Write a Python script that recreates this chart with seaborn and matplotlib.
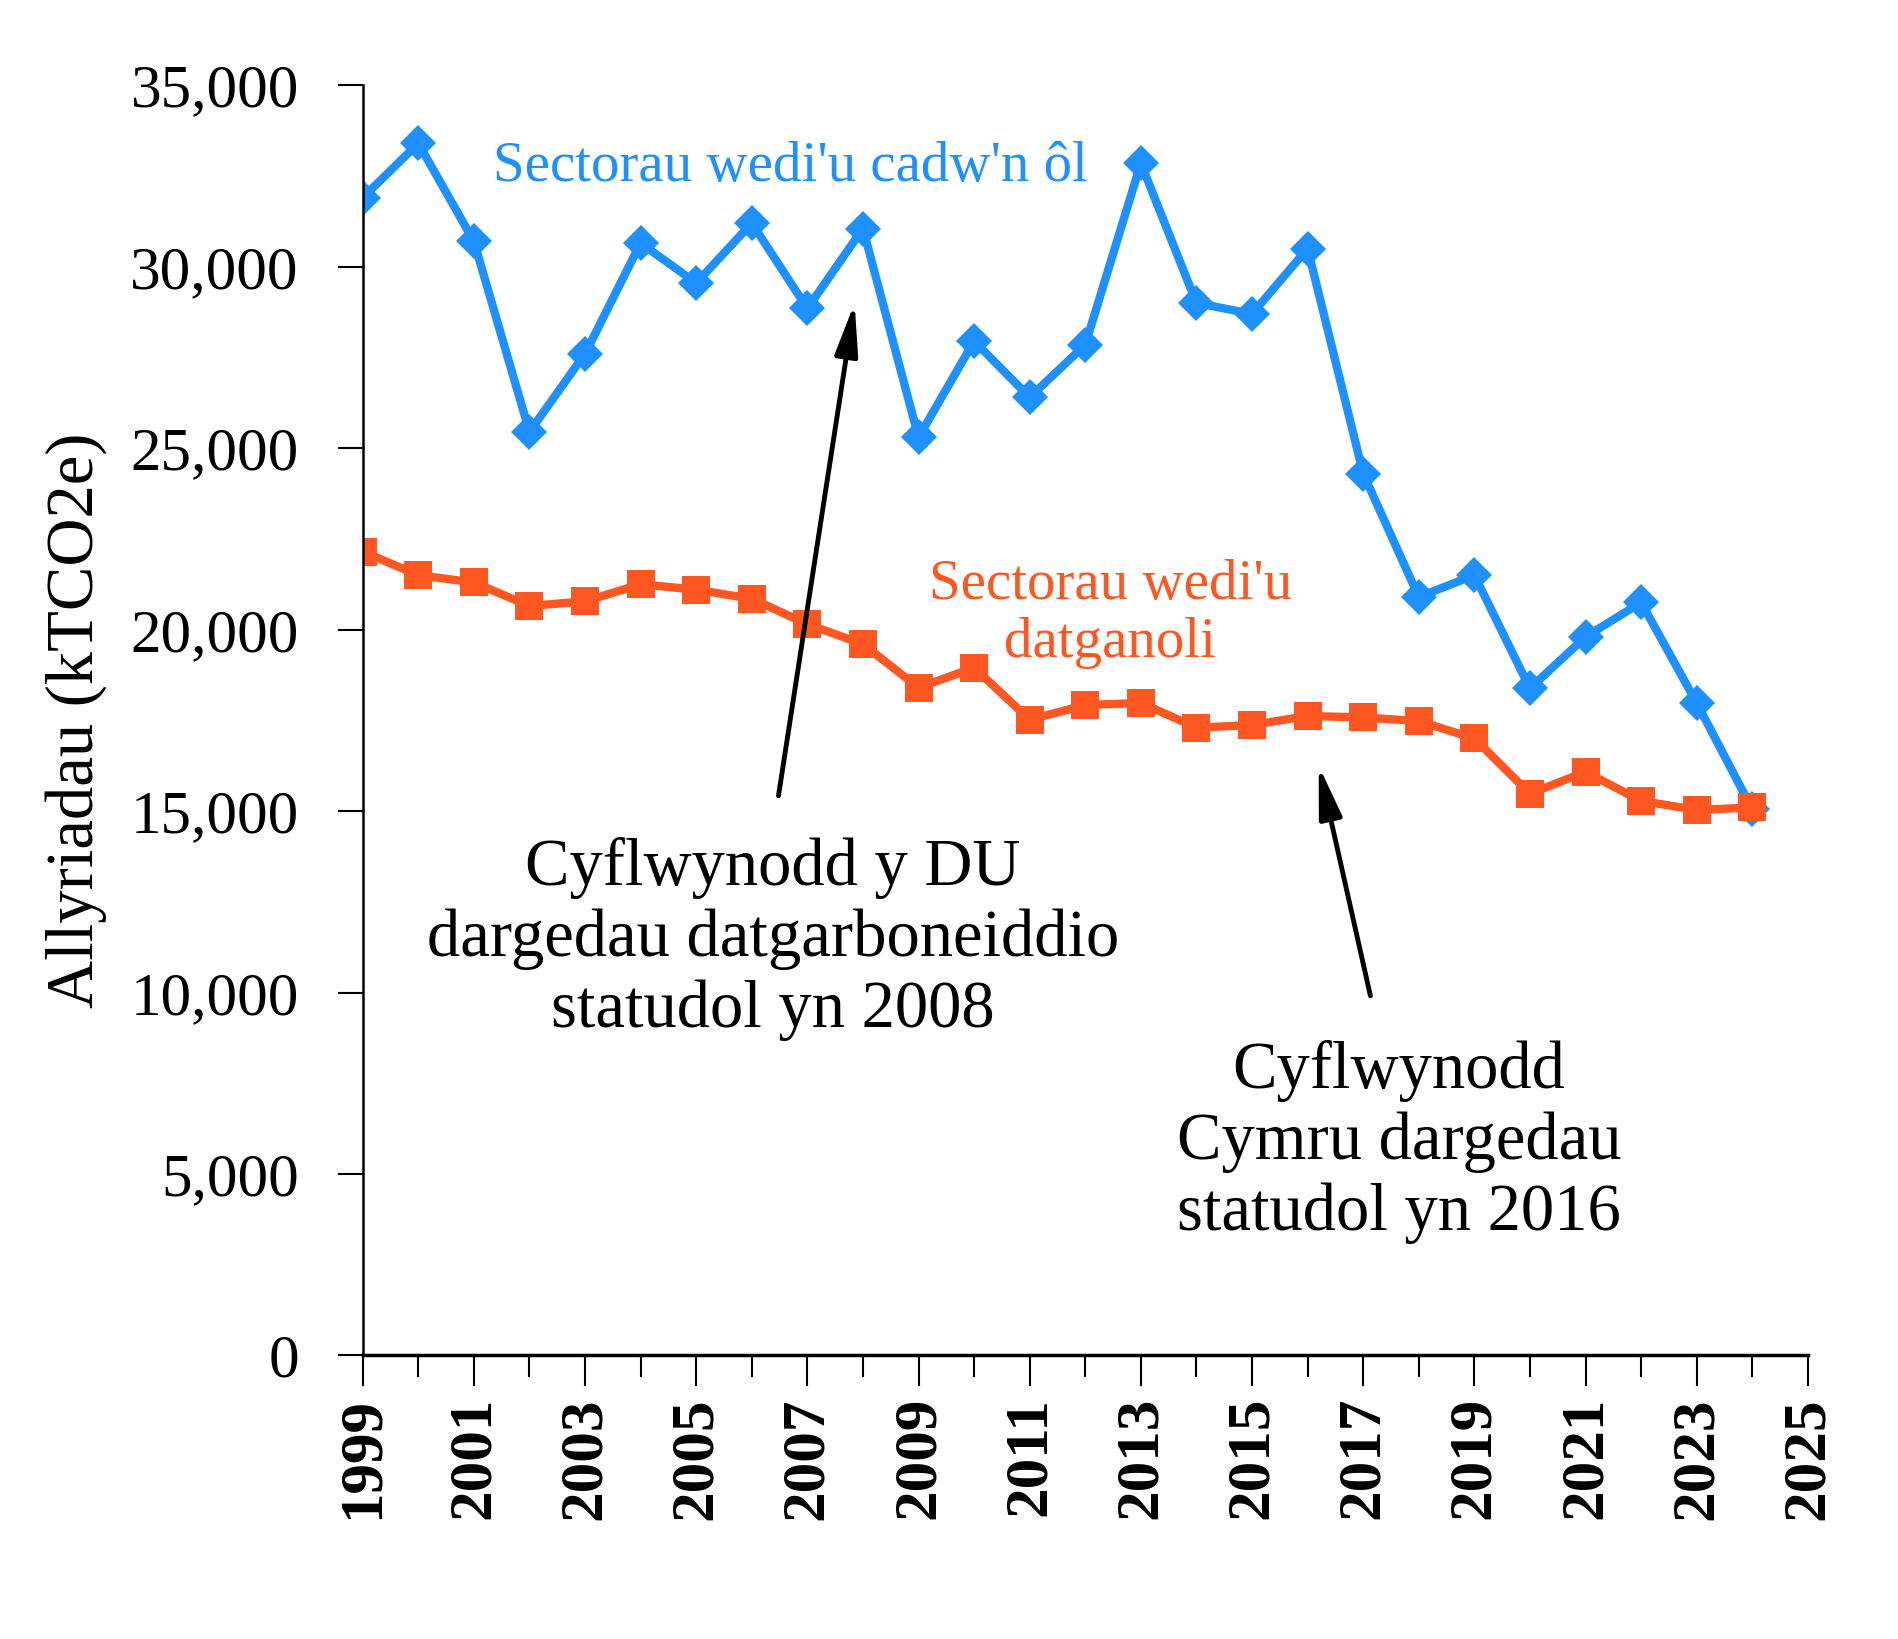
import pandas as pd
import matplotlib
matplotlib.use('Agg')
import matplotlib.pyplot as plt
import seaborn as sns
from matplotlib.ticker import FixedLocator, FuncFormatter

years = list(range(1999, 2025))
retained = [31900, 33400, 30700, 25450, 27600, 30650, 29550, 31200, 28850, 31050,
            25300, 27950, 26400, 27850, 32850, 29000, 28700, 30500, 24300, 20900,
            21500, 18380, 19800, 20750, 17980, 15050]
devolved = [22150, 21500, 21300, 20650, 20780, 21250, 21100, 20850, 20150, 19600,
            18400, 18950, 17520, 17920, 17980, 17300, 17370, 17620, 17580, 17480,
            17000, 15480, 16080, 15280, 15030, 15100]
xticks = list(range(1999, 2026, 2))

blue = '#1E90FF'
orange = '#FF5722'

df = pd.DataFrame({'year': years, 'retained': retained, 'devolved': devolved})

sns.set_style('ticks')
plt.rcParams['font.family'] = ['Liberation Serif', 'DejaVu Serif']
for k in ['text.color', 'axes.labelcolor', 'xtick.color', 'ytick.color', 'axes.edgecolor']:
    plt.rcParams[k] = 'black'

fig = plt.figure(figsize=(18.99, 16.39), dpi=100)
ax = fig.add_axes([0.191, 0.173, 0.761, 0.775])

sns.lineplot(x='year', y='retained', data=df, ax=ax, color=blue, lw=6,
             marker='D', markersize=18, markeredgewidth=0)
sns.lineplot(x='year', y='devolved', data=df, ax=ax, color=orange, lw=6,
             marker='s', markersize=20, markeredgewidth=0)

ax.set_xlim(1999, 2025)
ax.set_ylim(0, 35000)
ax.xaxis.set_major_locator(FixedLocator(xticks))
ax.xaxis.set_minor_locator(FixedLocator(years + [2025]))
ax.set_xticklabels([str(y) for y in xticks], fontweight='bold')
ax.set_yticks(range(0, 35001, 5000))
ax.yaxis.set_major_formatter(FuncFormatter(lambda v, p: f'{int(v):,}'))
ax.tick_params(axis='x', which='major', length=22, width=1.5, labelsize=44,
               labelrotation=90, pad=8)
ax.tick_params(axis='x', which='minor', length=16, width=1.5)
ax.tick_params(axis='y', length=18, width=1.5, labelsize=44, pad=28)
sns.despine(ax=ax)
ax.spines['left'].set_linewidth(1.8)
ax.spines['bottom'].set_linewidth(2.5)

ax.set_xlabel('')
ax.set_ylabel('Allyriadau (kTCO2e)', fontsize=48)
ax.yaxis.set_label_coords(-0.177, 0.5)

ax.text(2006.7, 32750, "Sectorau wedi'u cadw'n ôl", color=blue, fontsize=41,
        ha='center', va='center')
ax.text(2012.45, 20420, "Sectorau wedi'u\ndatganoli", color=orange, fontsize=41,
        ha='center', va='center', linespacing=1.15)

ax.text(2006.38, 11480, 'Cyflwynodd y DU\ndargedau datgarboneiddio\nstatudol yn 2008',
        fontsize=48, ha='center', va='center', linespacing=1.2)
ax.text(2017.64, 5870, 'Cyflwynodd\nCymru dargedau\nstatudol yn 2016',
        fontsize=48, ha='center', va='center', linespacing=1.2)

arrow = dict(arrowstyle='-|>,head_length=0.9,head_width=0.2', color='black',
             lw=3.5, mutation_scale=35, shrinkA=0, shrinkB=0)
ax.annotate('', xy=(2007.85, 29000), xytext=(2006.48, 15420), arrowprops=arrow)
ax.annotate('', xy=(2016.2, 16250), xytext=(2017.13, 9910), arrowprops=arrow)

fig.savefig('out.png', dpi=100)
